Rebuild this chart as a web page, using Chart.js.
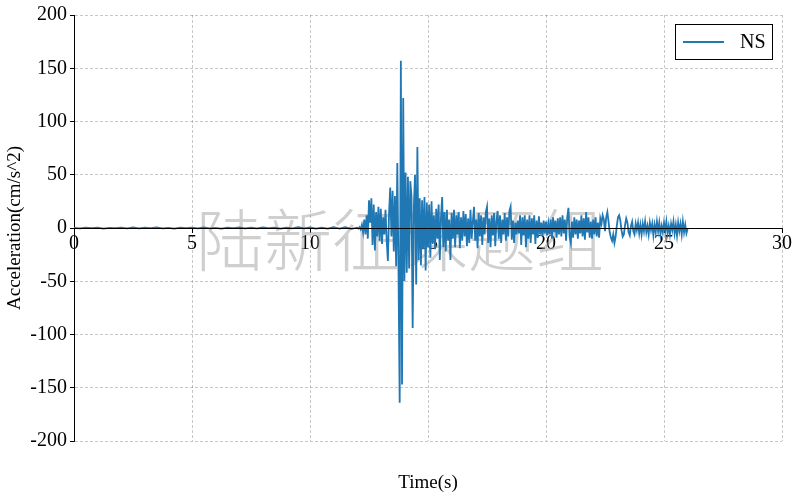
<!DOCTYPE html>
<html>
<head>
<meta charset="utf-8">
<script src="https://cdn.jsdelivr.net/npm/chart.js@4.4.1/dist/chart.umd.min.js"></script>
<style>
  html, body { margin: 0; padding: 0; background: #fff; }
  canvas { display: block; }
</style>
</head>
<body>
<canvas id="accelChart" width="800" height="501"></canvas>
<script>
// quiet part of the record, 0 - 11.75 s, one value every 0.25 s
const quietStart = 0;
const quietStep = 0.25;
const quietAccel = [
    0.2, -0.3, 0.4, -0.2, 0.3, -0.5, 0.2, -0.1, 0.4, -0.3, 0.5, -0.4,
    0.3, -0.2, 0.6, -0.3, 0.2, -0.5, 0.4, -0.2, 0.3, -0.4, 0.5, -0.3,
    0.2, -0.6, 0.4, -0.2, 0.5, -0.3, 0.3, -0.4, 0.6, -0.2, 0.4, -0.5,
    0.3, -0.3, 0.7, -0.4, 0.5, -0.6, 0.4, -0.5, 0.8, -0.6, 0.7, -0.8
];

// strong motion, 12.00 - 26.00 s, one value every 0.05 s (one row per second)
const strongStart = 12;
const strongStep = 0.05;
const strongAccel = [
    0.3, -0.5, 0.8, -1.5, 3, -4, 8, -6, 12, -10, 26, 5, 28, -16, 22, -21, 15, -8, 20, -12,
    18, -15, 10, -6, 17, -12, -31, 14, 38, -8, 35, -22, 30, -36, 61, -40, -164, 157, -147, 122,
    -50, 52, -42, 48, -38, 44, 30, -94, 20, 50, -53, 76, -30, 28, -35, 26, -20, 29, -40, 24,
    -18, 22, -28, 25, -15, 12, -20, 18, -10, 22, -30, 10, 29, -18, 15, -22, 17, -12, 8, -30,
    14, -10, 17, -18, 12, -6, 15, -19, 10, -12, 16, -8, 13, -17, 9, -14, 17, -10, 6, 20,
    -12, 8, -19, 14, -8, 12, -16, 10, -6, 15, 20, -14, 9, -18, 12, -7, 14, -17, 6, 16,
    -10, 12, -14, 8, -6, 14, -12, 10, -8, 16, 20, -11, 7, -14, 5, -6, 7, -5, 12, -16,
    10, -7, 12, -18, 8, -10, 12, -14, 9, -6, 12, -15, 7, -9, 11, -6, 5, -8, 7, -5,
    6, -7, 4, -6, 8, -10, 10, -4, 7, -9, 9, -6, 10, -8, 12, -5, 8, -12, 10, 19,
    -8, -14, 6, -9, 10, -6, 8, -10, 7, -5, 12, -8, 9, -11, 15, -4, 10, -9, 6, -10,
    8, -6, 10, -8, 5, -9, 9, 4, 12, 8, -3, 10, 15, 6, -4, -9, -12, -6, -14, -8,
    2, 10, 12, 7, -2, -8, -6, 3, 9, 5, -4, -7, 2, 6, -3, -6, 4, -2, 5, -5,
    3, -6, 4, -3, 6, -4, 2, -6, 5, -2, 4, -7, 3, -4, 6, -3, 5, -6, 2, -4,
    5, -3, 6, -5, 2, -6, 4, -2, 6, -5, 3, -7, 5, -3, 4, -6, 6, -4, 3, -5,
    -1
];

const xTicks = [0, 5, 10, 15, 20, 25, 30];
const yTicks = [-200, -150, -100, -50, 0, 50, 100, 150, 200];

const seriesName = 'NS';
const watermark = '陆新征课题组';
const serif = '"Liberation Serif", "Times New Roman", serif';

const points = [];
quietAccel.forEach((v, i) => points.push({ x: +(quietStart + i * quietStep).toFixed(2), y: v }));
strongAccel.forEach((v, i) => points.push({ x: +(strongStart + i * strongStep).toFixed(2), y: v }));

const gridColor = 'rgba(0, 0, 0, 0.28)';

// watermark behind the trace, legend box and x title on top
const extrasPlugin = {
    id: 'extras',
    beforeDatasetsDraw(chart) {
        const { ctx } = chart;
        ctx.save();
        ctx.font = '300 68px "Noto Sans CJK SC", sans-serif';
        ctx.fillStyle = 'rgba(160, 160, 160, 0.5)';
        ctx.textAlign = 'center';
        ctx.textBaseline = 'middle';
        ctx.fillText(watermark, 400, 240);
        ctx.restore();
    },
    afterDraw(chart) {
        const { ctx, chartArea } = chart;
        ctx.save();
        // legend
        const bx = chartArea.right - 107, by = chartArea.top + 9, bw = 97, bh = 35;
        ctx.fillStyle = '#fff';
        ctx.fillRect(bx, by, bw, bh);
        ctx.strokeStyle = '#000';
        ctx.lineWidth = 1;
        ctx.strokeRect(bx + 0.5, by + 0.5, bw, bh);
        ctx.strokeStyle = '#1f77b4';
        ctx.lineWidth = 1.8;
        ctx.beginPath();
        ctx.moveTo(bx + 8, by + bh / 2 + 0.5);
        ctx.lineTo(bx + 49, by + bh / 2 + 0.5);
        ctx.stroke();
        ctx.fillStyle = '#000';
        ctx.font = '20px ' + serif;
        ctx.textAlign = 'left';
        ctx.textBaseline = 'middle';
        ctx.fillText(seriesName, bx + 65, by + bh / 2 + 1);
        // x axis title at the bottom
        ctx.font = '19px ' + serif;
        ctx.textAlign = 'center';
        ctx.fillText('Time(s)', (chartArea.left + chartArea.right) / 2, 483);
        ctx.restore();
    }
};

const ctx = document.getElementById('accelChart').getContext('2d');
const accelChart = new Chart(ctx, {
    type: 'line',
    data: {
        datasets: [{
            label: seriesName,
            data: points,
            borderColor: '#1f77b4',
            borderWidth: 1.8,
            pointRadius: 0,
            tension: 0,
            fill: false
        }]
    },
    options: {
        responsive: false,
        animation: false,
        layout: { padding: { left: 0, top: 15, right: 18, bottom: 60 } },
        plugins: {
            legend: { display: false },
            tooltip: { enabled: false }
        },
        scales: {
            x: {
                type: 'linear',
                min: 0,
                max: 30,
                position: { y: 0 },
                afterBuildTicks: (scale) => { scale.ticks = xTicks.map(v => ({ value: v })); },
                ticks: {
                    color: '#000',
                    font: { family: serif, size: 20 },
                    padding: 0,
                    maxRotation: 0
                },
                grid: {
                    color: gridColor,
                    lineWidth: 0.8,
                    tickLength: 4,
                    tickColor: '#000',
                    tickWidth: 1
                },
                border: { color: '#000', width: 1, dash: [3, 2], z: 1 }
            },
            y: {
                type: 'linear',
                min: -200,
                max: 200,
                afterBuildTicks: (scale) => { scale.ticks = yTicks.map(v => ({ value: v })); },
                afterFit: (scale) => { scale.width = 74; },
                ticks: {
                    color: '#000',
                    font: { family: serif, size: 20 },
                    padding: 3
                },
                title: {
                    display: true,
                    text: 'Acceleration(cm/s^2)',
                    color: '#000',
                    font: { family: serif, size: 19 },
                    padding: { top: 4, bottom: 0 }
                },
                grid: {
                    color: gridColor,
                    lineWidth: 0.8,
                    tickLength: 4,
                    tickColor: '#000',
                    tickWidth: 1
                },
                border: { color: '#000', width: 1, dash: [3, 2] }
            }
        }
    },
    plugins: [extrasPlugin]
});
</script>
</body>
</html>
